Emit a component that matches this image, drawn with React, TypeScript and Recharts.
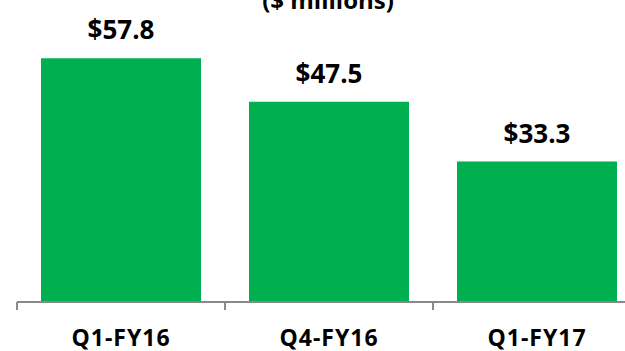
import { BarChart, Bar, XAxis, YAxis, LabelList } from 'recharts';

const quarters = ['Q1-FY16', 'Q4-FY16', 'Q1-FY17'];
const revenue = [57.8, 47.5, 33.3];

const data = quarters.map((q, i) => ({ quarter: q, value: revenue[i] }));

const W = 660;
const H = 351;
const TOP = 49;
const LEFT = 17;
const RIGHT = 19;
const AXIS_H = 49;
const AXIS_Y = H - AXIS_H;
const BAND = (W - LEFT - RIGHT) / quarters.length;
const FONT = '"Open Sans", sans-serif';

// boundary tick marks like the Excel original, label centred in the band
const QuarterTick = ({ x, payload }: any) => (
  <g>
    <line x1={x - BAND / 2} x2={x - BAND / 2} y1={AXIS_Y} y2={AXIS_Y + 8} stroke="#898989" strokeWidth={2} />
    <text
      x={x}
      y={AXIS_Y + 44}
      textAnchor="middle"
      fontFamily={FONT}
      fontWeight={700}
      fontSize={23}
      letterSpacing={1}
      fill="#000"
    >
      {payload.value}
    </text>
  </g>
);

export default function App() {
  return (
    <div style={{ position: 'absolute', left: 0, top: 0, width: 625, height: H, overflow: 'hidden', background: '#fff' }}>
      <svg width={625} height={40} style={{ position: 'absolute', left: 0, top: 0 }}>
        <text x={328} y={9} textAnchor="middle" fontFamily={FONT} fontWeight={700} fontSize={24} fill="#000">
          ($ millions)
        </text>
      </svg>
      <BarChart width={W} height={H} data={data} margin={{ top: TOP, right: RIGHT, bottom: 0, left: LEFT }}>
        <XAxis
          dataKey="quarter"
          height={AXIS_H}
          axisLine={{ stroke: '#898989', strokeWidth: 2 }}
          tickLine={false}
          tick={<QuarterTick />}
          interval={0}
        />
        <YAxis hide domain={[0, 60]} />
        <Bar dataKey="value" fill="#00B050" barSize={160} isAnimationActive={false}>
          <LabelList
            dataKey="value"
            position="top"
            offset={19}
            formatter={(v: any) => `$${Number(v).toFixed(1)}`}
            style={{ fontFamily: FONT, fontWeight: 700, fontSize: 26, fill: '#000' }}
          />
        </Bar>
      </BarChart>
    </div>
  );
}
